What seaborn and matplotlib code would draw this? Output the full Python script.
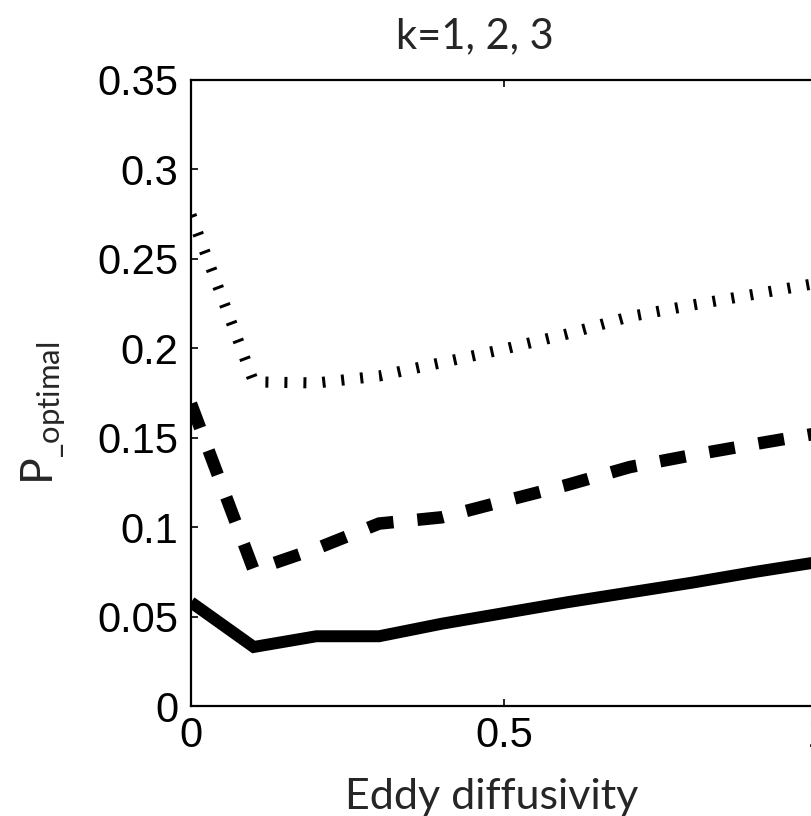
import numpy as np
import pandas as pd
import matplotlib
matplotlib.use("Agg")
import matplotlib.pyplot as plt
import seaborn as sns

# ---- data ----
eddy = [0.0, 0.1, 0.2, 0.3, 0.4, 0.5, 0.6, 0.7, 0.8, 0.9, 1.0]
p_k1 = [0.058, 0.033, 0.039, 0.039, 0.046, 0.052, 0.058, 0.0635, 0.069, 0.075, 0.0805]
p_k2 = [0.169, 0.076, 0.088, 0.102, 0.1055, 0.1146, 0.1236, 0.1336, 0.1403, 0.1465, 0.1525]
p_k3 = [0.2745, 0.1812, 0.1806, 0.1845, 0.1920, 0.1996, 0.2080, 0.2177, 0.2242, 0.2303, 0.2365]

x_ticks = [0, 0.5, 1]
x_tick_labels = ["0", "0.5", "1"]
y_ticks = [0, 0.05, 0.1, 0.15, 0.2, 0.25, 0.3, 0.35]
y_tick_labels = ["0", "0.05", "0.1", "0.15", "0.2", "0.25", "0.3", "0.35"]

title_text = "k=1, 2, 3"
xlabel_text = "Eddy diffusivity"
ylabel_text = r"P$_{\mathregular{\_optimal}}$"

df = pd.DataFrame({"eddy": eddy, "k1": p_k1, "k2": p_k2, "k3": p_k3})

sns.set_style("ticks")
plt.rcParams["font.family"] = ["Liberation Sans", "DejaVu Sans"]
plt.rcParams["lines.scale_dashes"] = True

fig = plt.figure(figsize=(8.12, 8.16), dpi=100)
ax = fig.add_axes([0.2352, 0.1348, 0.7722, 0.7672])

sns.lineplot(data=df, x="eddy", y="k1", ax=ax, color="black", linewidth=8.6,
             solid_capstyle="butt", solid_joinstyle="miter")
sns.lineplot(data=df, x="eddy", y="k2", ax=ax, color="black", linewidth=9.0,
             linestyle=(0, (2.08, 1.92)), dash_capstyle="butt", dash_joinstyle="miter")
sns.lineplot(data=df, x="eddy", y="k3", ax=ax, color="black", linewidth=8.0,
             linestyle=(0, (0.27, 1.44)), dash_capstyle="butt")

ax.set_xlim(0, 1)
ax.set_ylim(0, 0.35)
ax.set_xticks(x_ticks)
ax.set_xticklabels(x_tick_labels)
ax.set_yticks(y_ticks)
ax.set_yticklabels(y_tick_labels)

for s in ax.spines.values():
    s.set_visible(True)
    s.set_linewidth(1.6)
    s.set_color("black")

ax.tick_params(axis="both", which="major", direction="in", length=5, width=1.2,
               top=True, right=True, labelsize=30, colors="black")
ax.tick_params(axis="y", pad=9)
ax.tick_params(axis="x", pad=7)

ax.set_xlabel("")
ax.set_ylabel("")
ax.text(0.48, -0.175, xlabel_text, transform=ax.transAxes, ha="center", va="bottom",
        fontsize=31, family=["Lato", "DejaVu Sans"])
ax.text(0.453, 1.04, title_text, transform=ax.transAxes, ha="center", va="bottom",
        fontsize=30, family=["Lato", "DejaVu Sans"])
fig.text(0.053, 0.493, ylabel_text, rotation=90, ha="center", va="center",
         fontsize=32, family=["Lato", "DejaVu Sans"])

fig.savefig("out.png", dpi=100)
